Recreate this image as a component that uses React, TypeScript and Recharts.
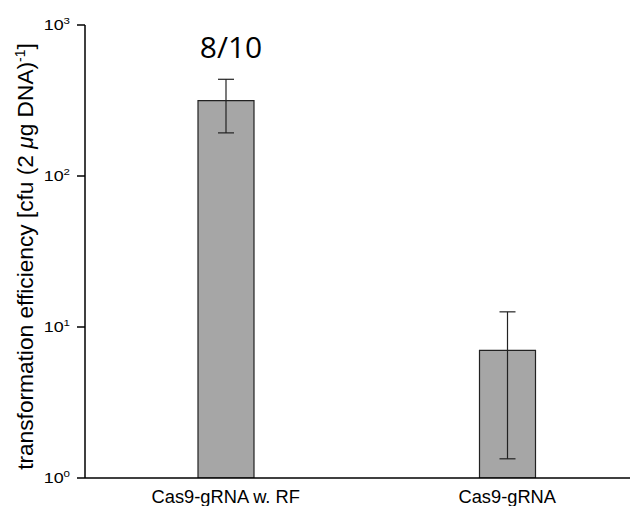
import { BarChart, Bar, XAxis, YAxis, ErrorBar, LabelList, Label } from 'recharts';

const categories = ['Cas9-gRNA w. RF', 'Cas9-gRNA'];
const efficiency = [316, 7];
const errLower = [193, 1.34];
const errUpper = [437, 12.6];
const annotations = ['8/10', ''];
const yTicks = [1, 10, 100, 1000];

const data = categories.map((name, i) => ({
  name,
  value: efficiency[i],
  err: [efficiency[i] - errLower[i], errUpper[i] - efficiency[i]],
  note: annotations[i],
}));

const FONT = '"Liberation Sans", Arial, sans-serif';

// tick labels in the source look horizontally stretched, so scale them a bit
function PowerTick({ x, y, payload }: any) {
  const exp = Math.round(Math.log10(payload.value));
  return (
    <g transform={`translate(${x - 5},${y}) scale(1.28,1)`}>
      <text x={0} y={0} dy="0.36em" textAnchor="end" fontFamily={FONT} fontSize={14} fill="#000">
        10
        <tspan dy={-6} fontSize={9}>{exp}</tspan>
      </text>
    </g>
  );
}

function CategoryTick({ x, y, payload }: any) {
  return (
    <text x={x} y={y + 17} textAnchor="middle" fontFamily={FONT} fontSize={18.3} fill="#000">
      {payload.value}
    </text>
  );
}

function YTitle({ viewBox }: any) {
  const cy = viewBox.y + viewBox.height / 2 + 5;
  return (
    <text
      x={25}
      y={cy}
      transform={`rotate(-90, 25, ${cy})`}
      textAnchor="middle"
      fontFamily={FONT}
      fontSize={22.7}
      fill="#000"
    >
      transformation efficiency [cfu (2 <tspan fontStyle="italic">μ</tspan>g DNA)
      <tspan dy={-8} fontSize={14}>-1</tspan>
      <tspan dy={8}>]</tspan>
    </text>
  );
}

function NoteLabel({ x, y, width, value }: any) {
  if (!value) return null;
  return (
    <text x={x + width / 2 + 5} y={y - 43} textAnchor="middle" fontFamily='"Open Sans", "Noto Sans", sans-serif' fontSize={30} fill="#000">
      {value}
    </text>
  );
}

export default function App() {
  return (
    <div style={{ width: 630, height: 498, overflow: 'hidden', background: '#fff' }}>
      <BarChart width={640} height={498} data={data} margin={{ top: 17, right: 0, bottom: 0, left: 0 }} barSize={56}>
        <XAxis
          dataKey="name"
          height={28}
          tickLine={false}
          axisLine={{ stroke: '#000', strokeWidth: 1.5 }}
          tick={<CategoryTick />}
          interval={0}
        />
        <YAxis
          scale="log"
          domain={[1, 1000]}
          ticks={yTicks}
          allowDataOverflow
          width={77}
          tickSize={8}
          tickLine={{ stroke: '#000', strokeWidth: 1.5 }}
          axisLine={{ stroke: '#000', strokeWidth: 1.5 }}
          tick={<PowerTick />}
        >
          <Label content={<YTitle />} />
        </YAxis>
        <Bar dataKey="value" fill="#a6a6a6" stroke="#222" strokeWidth={1.2} isAnimationActive={false}>
          <ErrorBar dataKey="err" width={8} stroke="#222" strokeWidth={1.2} />
          <LabelList dataKey="note" content={<NoteLabel />} />
        </Bar>
      </BarChart>
    </div>
  );
}
